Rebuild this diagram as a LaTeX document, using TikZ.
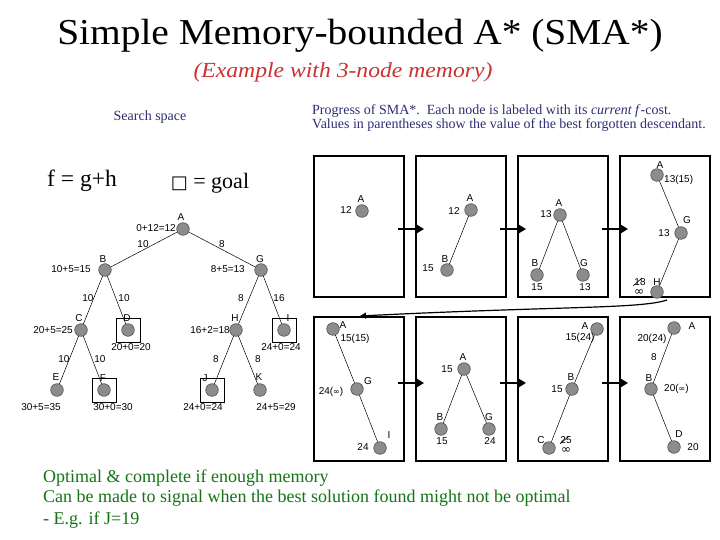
\documentclass[tikz,border=0pt]{standalone}
\usepackage{fontspec}
\setmainfont{Liberation Serif}
\newfontfamily\arial{Liberation Sans}
\newfontfamily\dejavu{DejaVu Sans}
\usetikzlibrary{arrows.meta}
\definecolor{navy}{RGB}{45,45,115}
\definecolor{subred}{RGB}{200,50,50}
\definecolor{dgreen}{RGB}{20,115,20}
\definecolor{nodefill}{RGB}{140,140,140}
\definecolor{nodeline}{RGB}{85,85,85}
\begin{document}
\begin{tikzpicture}[x=1pt,y=-1pt,
  st/.style={circle,fill=nodefill,draw=nodeline,line width=0.6pt,minimum size=12.6pt,inner sep=0pt},
  lbl/.style={font=\arial\fontsize{10}{10}\selectfont,inner sep=0pt},
  goalbox/.style={draw,line width=0.8pt,minimum width=24pt,minimum height=24pt,inner sep=0pt},
  panel/.style={draw,line width=1.2pt,minimum width=90pt,inner sep=0pt},
  edge/.style={line width=0.5pt},
  stepar/.style={line width=2pt,-{Triangle[length=7pt,width=8pt]}},
  strike/.style={line width=0.6pt}]
\useasboundingbox (0,0) rectangle (720,540);

% titles
\node (title) at (360,36) {\scalebox{1.08}[1]{\fontsize{36.5}{36}\selectfont Simple Memory-bounded A* (SMA*)}};
\node[text=subred] (sub) at (343,72) {\scalebox{1.1}[1]{\fontsize{21.5}{20}\selectfont\itshape (Example with 3-node memory)}};
\node[text=navy] (ss) at (150,117) {\fontsize{14}{14}\selectfont Search space};
\node[text=navy,anchor=west,align=left,inner sep=0pt] (prog) at (312,118.5) {\fontsize{14}{17}\selectfont Progress of SMA*.\ \ Each node is labeled with its \textit{current f}-cost.\\ \fontsize{14}{17}\selectfont Values in parentheses show the value of the best forgotten descendant.};
\node (fgh) at (82,181) {\fontsize{23.5}{22}\selectfont f = g+h};
\node (goal) at (210,183) {\fontsize{22}{22}\selectfont {\dejavu\fontsize{18}{18}\selectfont □} = goal};

% ---------------- search space tree ----------------
\node[goalbox] (Dbox) at (128,330) {};
\node[goalbox] (Fbox) at (104.5,390) {};
\node[goalbox] (Ibox) at (284.5,330) {};
\node[goalbox] (Jbox) at (212,390) {};
\node[st] (A) at (183,229) {};
\node[st] (B) at (105,270) {};
\node[st] (G) at (261,270) {};
\node[st] (C) at (81,330) {};
\node[st] (D) at (128,330) {};
\node[st] (H) at (236,330) {};
\node[st] (I) at (284,330) {};
\node[st] (E) at (57,390) {};
\node[st] (F) at (104,390) {};
\node[st] (J) at (212,390) {};
\node[st] (K) at (260,390) {};
\draw[edge] (A) -- (B);
\draw[edge] (A) -- (G);
\draw[edge] (B) -- (C);
\draw[edge] (B) -- (D);
\draw[edge] (G) -- (H);
\draw[edge] (G) -- (I);
\draw[edge] (C) -- (E);
\draw[edge] (C) -- (F);
\draw[edge] (H) -- (J);
\draw[edge] (H) -- (K);
\node[lbl] (lA) at (181,217) {A};
\node[lbl] (lB) at (103,259) {B};
\node[lbl] (lG) at (260,259) {G};
\node[lbl] (lC) at (79,318) {C};
\node[lbl] (lD) at (127,318) {D};
\node[lbl] (lH) at (235,318) {H};
\node[lbl] (lI) at (288,318) {I};
\node[lbl] (lE) at (56,377) {E};
\node[lbl] (lF) at (103,378) {F};
\node[lbl] (lJ) at (205,378) {J};
\node[lbl] (lK) at (259,377) {K};
\node[lbl,anchor=east] (fA) at (176,228) {0+12=12};
\node[lbl,anchor=east] (fB) at (91,269) {10+5=15};
\node[lbl,anchor=east] (fG) at (245,269) {8+5=13};
\node[lbl,anchor=east] (fC) at (73,330) {20+5=25};
\node[lbl] (fD) at (131,347) {20+0=20};
\node[lbl,anchor=east] (fH) at (230,330) {16+2=18};
\node[lbl] (fI) at (281,347) {24+0=24};
\node[lbl] (fE) at (41,407) {30+5=35};
\node[lbl] (fF) at (113,407) {30+0=30};
\node[lbl] (fJ) at (203,407) {24+0=24};
\node[lbl] (fK) at (276,407) {24+5=29};
\node[lbl] (eAB) at (143,244) {10};
\node[lbl] (eAG) at (222,244) {8};
\node[lbl] (eBC) at (88,298) {10};
\node[lbl] (eBD) at (124,298) {10};
\node[lbl] (eCE) at (64,359) {10};
\node[lbl] (eCF) at (100,359) {10};
\node[lbl] (eGH) at (241,298) {8};
\node[lbl] (eGI) at (279,298) {16};
\node[lbl] (eHJ) at (216,359) {8};
\node[lbl] (eHK) at (258,359) {8};

% ---------------- panels ----------------
\node[panel,minimum height=141pt] (p1) at (359,226.5) {};
\node[panel,minimum height=141pt] (p2) at (461,226.5) {};
\node[panel,minimum height=141pt] (p3) at (563,226.5) {};
\node[panel,minimum height=141pt] (p4) at (665,226.5) {};
\node[panel,minimum height=144pt] (p5) at (359,389) {};
\node[panel,minimum height=144pt] (p6) at (461,389) {};
\node[panel,minimum height=144pt] (p7) at (563,389) {};
\node[panel,minimum height=144pt] (p8) at (665,389) {};

\coordinate (a1s) at (398,229); \coordinate (a1e) at (424,229);
\coordinate (a2s) at (500,229); \coordinate (a2e) at (526,229);
\coordinate (a3s) at (602,229); \coordinate (a3e) at (628,229);
\coordinate (a5s) at (398,383); \coordinate (a5e) at (424,383);
\coordinate (a6s) at (500,383); \coordinate (a6e) at (526,383);
\coordinate (a7s) at (602,383); \coordinate (a7e) at (628,383);
\draw[stepar] (a1s) -- (a1e);
\draw[stepar] (a2s) -- (a2e);
\draw[stepar] (a3s) -- (a3e);
\draw[stepar] (a5s) -- (a5e);
\draw[stepar] (a6s) -- (a6e);
\draw[stepar] (a7s) -- (a7e);
\coordinate (ws) at (667,300); \coordinate (we) at (360,316);
\draw[line width=1.2pt,-{Triangle[length=6pt,width=6pt]}] (ws) .. controls (640,309) and (560,306) .. (we);

% panel 1
\node[st] (p1A) at (362,211) {};
\node[lbl] (p1lA) at (361,199) {A};
\node[lbl] (p1fA) at (346,210) {12};

% panel 2
\node[st] (p2A) at (471,210) {};
\node[st] (p2B) at (447,270) {};
\draw[edge] (p2A) -- (p2B);
\node[lbl] (p2lA) at (470,198) {A};
\node[lbl] (p2fA) at (454,211) {12};
\node[lbl] (p2lB) at (445,259) {B};
\node[lbl] (p2fB) at (428,268) {15};

% panel 3
\node[st] (p3A) at (560,215) {};
\node[st] (p3B) at (537,275) {};
\node[st] (p3G) at (583,275) {};
\draw[edge] (p3A) -- (p3B);
\draw[edge] (p3A) -- (p3G);
\node[lbl] (p3lA) at (559,203) {A};
\node[lbl] (p3fA) at (546,214) {13};
\node[lbl] (p3lB) at (535,263) {B};
\node[lbl] (p3fB) at (537,287) {15};
\node[lbl] (p3lG) at (584,263) {G};
\node[lbl] (p3fG) at (585,287) {13};

% panel 4
\node[st] (p4A) at (657,175) {};
\node[st] (p4G) at (681,233) {};
\node[st] (p4H) at (657,292) {};
\draw[edge] (p4A) -- (p4G);
\draw[edge] (p4G) -- (p4H);
\node[lbl] (p4lA) at (660,165) {A};
\node[lbl,anchor=west] (p4fA) at (664,180) {13(15)};
\node[lbl] (p4lG) at (687,220) {G};
\node[lbl] (p4fG) at (664,233) {13};
\node[lbl] (p4lH) at (657,282) {H};
\node[lbl] (p4fH) at (640,282) {18};
\coordinate (p4s1) at (633,286); \coordinate (p4s2) at (642,278);
\draw[strike] (p4s1) -- (p4s2);
\node[inner sep=0pt] (p4inf) at (639,293) {\dejavu\fontsize{12}{12}\selectfont ∞};

% panel 5
\node[st] (p5A) at (333,329) {};
\node[st] (p5G) at (357,389) {};
\node[st] (p5I) at (380,448) {};
\draw[edge] (p5A) -- (p5G);
\draw[edge] (p5G) -- (p5I);
\node[lbl] (p5lA) at (343,325) {A};
\node[lbl] (p5fA) at (355,339) {15(15)};
\node[lbl] (p5lG) at (368,381) {G};
\node[lbl] (p5fG) at (331,392) {24({\dejavu\fontsize{8}{8}\selectfont ∞})};
\node[lbl] (p5lI) at (389,435) {I};
\node[lbl] (p5fI) at (363,447) {24};

% panel 6
\node[st] (p6A) at (464,369) {};
\node[st] (p6B) at (441,429) {};
\node[st] (p6G) at (489,429) {};
\draw[edge] (p6A) -- (p6B);
\draw[edge] (p6A) -- (p6G);
\node[lbl] (p6lA) at (463,357) {A};
\node[lbl] (p6fA) at (447,369) {15};
\node[lbl] (p6lB) at (440,417) {B};
\node[lbl] (p6fB) at (442,441) {15};
\node[lbl] (p6lG) at (489,417) {G};
\node[lbl] (p6fG) at (490,441) {24};

% panel 7
\node[st] (p7A) at (597,329) {};
\node[st] (p7B) at (572,389) {};
\node[st] (p7C) at (549,448) {};
\draw[edge] (p7A) -- (p7B);
\draw[edge] (p7B) -- (p7C);
\node[lbl] (p7lA) at (585,326) {A};
\node[lbl] (p7fA) at (580,338) {15(24)};
\node[lbl] (p7lB) at (571,377) {B};
\node[lbl] (p7fB) at (557,389) {15};
\node[lbl] (p7lC) at (541,440) {C};
\node[lbl] (p7fC) at (566,440) {25};
\coordinate (p7s1) at (560,444); \coordinate (p7s2) at (569,436);
\draw[strike] (p7s1) -- (p7s2);
\node[inner sep=0pt] (p7inf) at (566,451) {\dejavu\fontsize{12}{12}\selectfont ∞};

% panel 8
\node[st] (p8A) at (674,328) {};
\node[st] (p8B) at (651,389) {};
\node[st] (p8D) at (674,447) {};
\draw[edge] (p8A) -- (p8B);
\draw[edge] (p8B) -- (p8D);
\node[lbl] (p8lA) at (692,326) {A};
\node[lbl] (p8fA) at (652,339) {20(24)};
\node[lbl] (p8e) at (654,357) {8};
\node[lbl] (p8lB) at (649,378) {B};
\node[lbl,anchor=west] (p8fB) at (664,389) {20({\dejavu\fontsize{8}{8}\selectfont ∞})};
\node[lbl] (p8lD) at (679,434) {D};
\node[lbl] (p8fD) at (693,447) {20};

% bottom text
\node[text=dgreen,anchor=west,inner sep=0pt] (t1) at (43,478) {\fontsize{18}{18}\selectfont Optimal \& complete if enough memory};
\node[text=dgreen,anchor=west,inner sep=0pt] (t2) at (43,498) {\fontsize{18}{18}\selectfont Can be made to signal when the best solution found might not be optimal};
\node[text=dgreen,anchor=west,inner sep=0pt] (t3) at (43,520) {\fontsize{18}{18}\selectfont - E.g. if J=19};
\end{tikzpicture}
\end{document}
